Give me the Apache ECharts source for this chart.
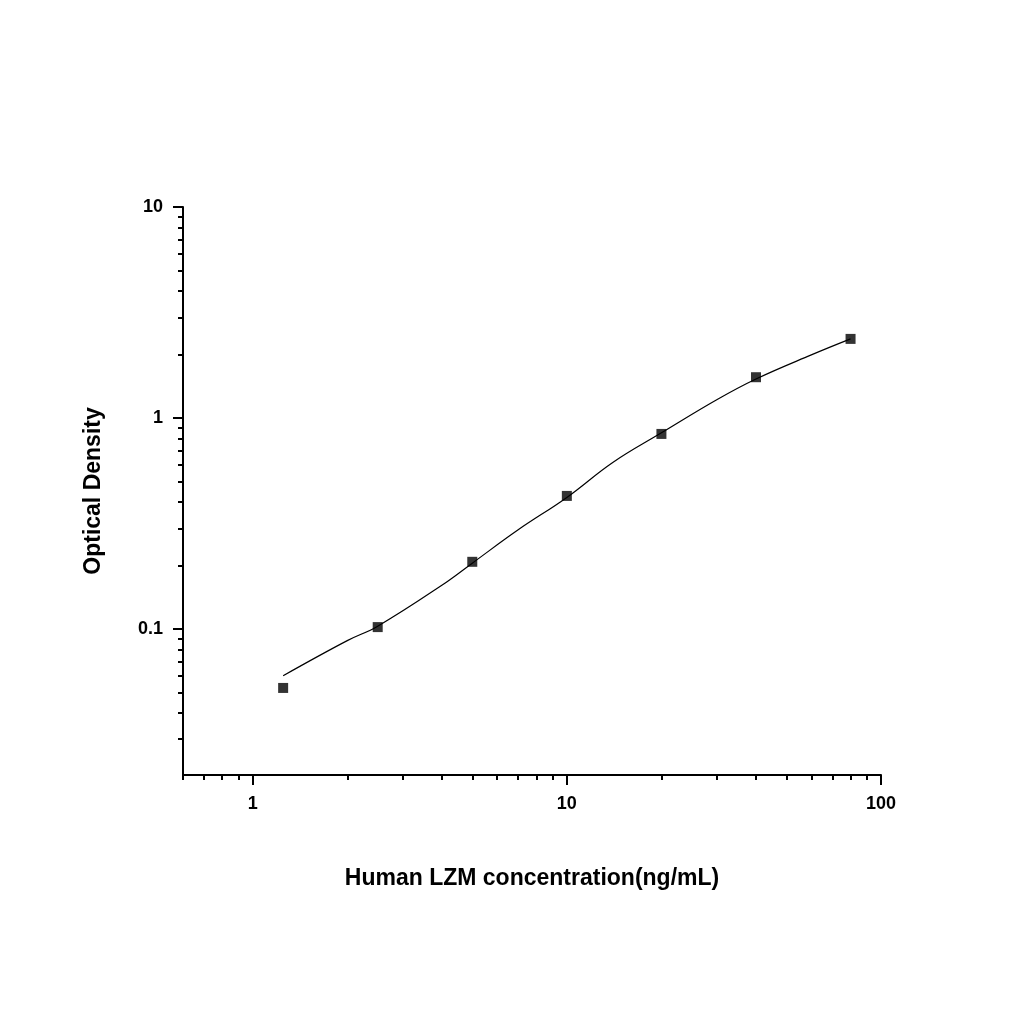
<!DOCTYPE html>
<html>
<head>
<meta charset="utf-8">
<script src="https://cdn.jsdelivr.net/npm/echarts@6/dist/echarts.min.js"></script>
<style>html,body{margin:0;padding:0;background:#fff}#main{width:1024px;height:1024px}</style>
</head>
<body>
<div id="main"></div>
<script>
// standards (concentration ng/mL, OD)
var conc = [1.25, 2.5, 5, 10, 20, 40, 80];
var od = [0.0525, 0.102, 0.208, 0.427, 0.84, 1.56, 2.37];
// fitted curve
var curveX = [1.25, 2, 2.5, 4, 5, 7, 10, 14, 20, 30, 40, 60, 80];
var curveY = [0.06, 0.088, 0.103, 0.161, 0.205, 0.295, 0.42, 0.615, 0.85, 1.22, 1.53, 1.99, 2.37];
var xMajor = [1, 10, 100];
var xMinor = [0.6, 0.7, 0.8, 0.9, 2, 3, 4, 5, 6, 7, 8, 9, 20, 30, 40, 50, 60, 70, 80, 90];
var yMajor = [0.1, 1, 10];
var yMinor = [0.02, 0.03, 0.04, 0.05, 0.06, 0.07, 0.08, 0.09, 0.2, 0.3, 0.4, 0.5, 0.6, 0.7, 0.8, 0.9, 2, 3, 4, 5, 6, 7, 8, 9];

var lg = function (v) { return Math.log10(v); };
var fmt = function (v) {
  var p = Math.round(v);
  return Math.pow(10, p).toString();
};
var xMin = lg(0.6), xMax = 2, yMin = lg(0.0203), yMax = 1;
var font = 'Arial, Liberation Sans';

function axis(pos, min, max, major, showLine, tickValues, len, labels) {
  return {
    type: 'value', position: pos, min: min, max: max,
    splitLine: {show: false},
    axisLine: {show: showLine, onZero: false, lineStyle: {color: '#000', width: 2}},
    axisTick: {show: true, inside: false, length: len, customValues: tickValues.map(lg),
      lineStyle: {color: '#000', width: 2}},
    axisLabel: {show: labels, customValues: major.map(lg), formatter: fmt,
      color: '#000', fontSize: 18, fontWeight: 'bold', fontFamily: font, margin: 20}
  };
}

var chart = echarts.init(document.getElementById('main'));
var xa0 = axis('bottom', xMin, xMax, xMajor, true, xMajor, 10, true);
xa0.name = 'Human LZM concentration(ng/mL)';
xa0.nameLocation = 'middle'; xa0.nameGap = 92;
xa0.nameTextStyle = {color: '#000', fontSize: 23, fontWeight: 'bold', fontFamily: font};
var ya0 = axis('left', yMin, yMax, yMajor, true, yMajor, 10, true);
ya0.name = 'Optical Density';
ya0.nameLocation = 'middle'; ya0.nameGap = 78;
ya0.nameTextStyle = {color: '#000', fontSize: 23, fontWeight: 'bold', fontFamily: font};

chart.setOption({
  animation: false,
  grid: {left: 183, right: 143, top: 207, bottom: 249},
  xAxis: [xa0, axis('bottom', xMin, xMax, xMajor, false, xMinor, 5, false)],
  yAxis: [ya0, axis('left', yMin, yMax, yMajor, false, yMinor, 5, false)],
  series: [
    {
      type: 'line', smooth: 0.4, symbol: 'none',
      lineStyle: {color: '#000', width: 1.2},
      data: curveX.map(function (x, i) { return [lg(x), lg(curveY[i])]; })
    },
    {
      type: 'scatter', symbol: 'rect', symbolSize: 10,
      itemStyle: {color: '#000'},
      data: conc.map(function (x, i) { return [lg(x), lg(od[i])]; })
    }
  ]
});
</script>
</body>
</html>
